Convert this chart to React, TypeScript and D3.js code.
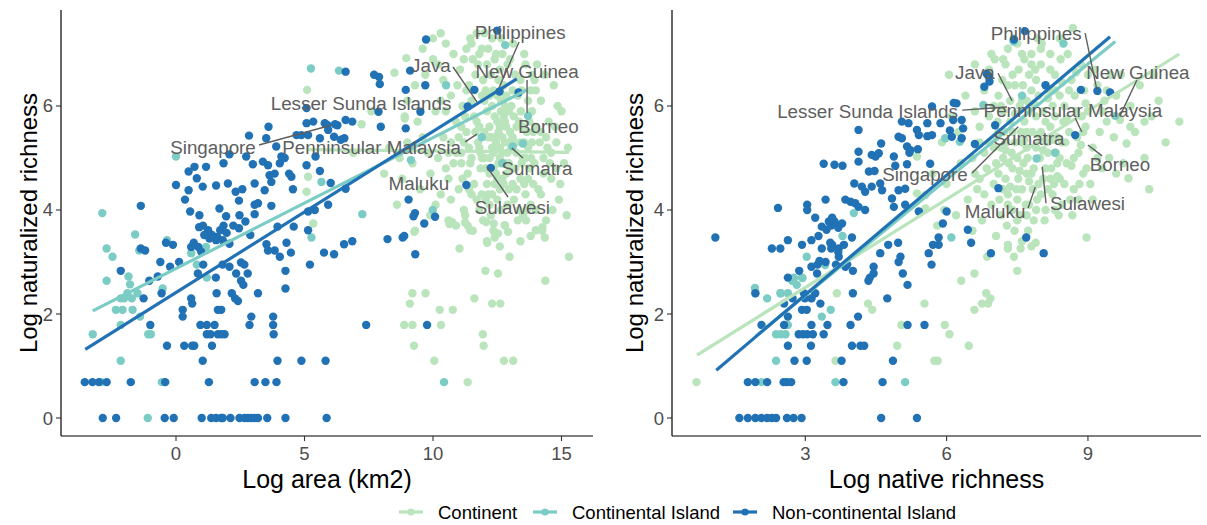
import React, { useEffect } from 'react';
import * as d3 from 'd3';

type P = [number, number];

const groups = ['Continent', 'Continental Island', 'Non-continental Island'];
const groupColors = ['#bae4bc', '#7bccc4', '#2171b5'];
const yTicks = [0, 2, 4, 6];
const areaTicks = [0, 5, 10, 15];
const nativeTicks = [3, 6, 9];
const yTitle = 'Log naturalized richness';
const areaTitle = 'Log area (km2)';
const nativeTitle = 'Log native richness';

// ---------- Left panel: log area ----------
const areaContinent: P[] = [
  [5.1,6.31],[5.14,4.64],[5.08,4.35],[5.34,3.74],[7.22,5.65],[8.5,6.64],[8.96,6.92],[7.9,6.55],[10.0,7.3],[8.9,5.76],[8.1,4.7],[7.6,5.9],[8.3,5.2],[6.9,5.1],
  [8.6,4.1],[8.8,4.6],[9.0,5.3],[9.2,4.9],[9.3,3.6],[9.0,6.1],[9.4,5.7],[9.5,4.4],[9.7,6.6],[9.8,5.1],[9.9,3.9],[8.9,5.8],[9.6,7.1],[9.3,6.4],[9.9,4.7],[8.7,5.0],
  [10.1,5.9],[10.2,6.8],[10.3,4.3],[10.4,5.4],[10.5,7.2],[10.6,3.8],[10.7,6.2],[10.8,4.9],[10.9,5.7],[10.2,5.0],[10.4,6.5],[10.6,4.6],[10.8,7.0],[10.9,3.7],[10.3,7.4],[10.7,5.3],[10.1,4.1],[10.5,5.9],[10.95,6.4],[10.0,6.9],
  [11.0,4.4],[11.1,5.1],[11.15,6.0],[11.2,6.9],[11.25,3.9],[11.3,5.5],[11.35,4.7],[11.4,6.4],[11.45,7.3],[11.5,5.0],[11.55,3.6],[11.6,5.8],[11.65,6.6],[11.7,4.2],[11.75,5.3],[11.8,7.0],[11.85,4.8],[11.9,6.2],[11.95,3.8],[11.05,6.7],
  [11.2,4.0],[11.3,7.1],[11.4,5.2],[11.5,6.1],[11.6,4.5],[11.7,7.4],[11.8,5.6],[11.9,4.3],[11.1,5.6],[11.45,4.9],[11.75,6.8],[11.25,5.8],[11.55,6.9],[11.85,5.1],[11.35,3.7],[11.65,5.5],[11.95,6.5],[11.15,4.6],[11.5,7.2],[11.8,4.0],
  [12.0,5.0],[12.05,6.3],[12.1,4.5],[12.15,7.1],[12.2,5.6],[12.25,3.9],[12.3,6.0],[12.35,4.8],[12.4,6.9],[12.45,5.3],[12.5,4.2],[12.55,6.5],[12.6,5.0],[12.65,7.3],[12.7,4.6],[12.75,5.8],[12.8,3.7],[12.85,6.2],[12.9,5.1],[12.95,4.4],
  [12.0,7.4],[12.1,5.9],[12.2,4.1],[12.3,5.2],[12.4,4.5],[12.5,5.7],[12.6,6.7],[12.7,5.4],[12.8,4.9],[12.9,6.8],[12.05,4.8],[12.15,5.4],[12.25,6.6],[12.35,3.6],[12.45,4.7],[12.55,5.5],[12.65,4.0],[12.75,6.4],[12.85,5.6],[12.95,5.9],
  [12.1,6.8],[12.3,4.3],[12.5,6.2],[12.7,5.1],[12.9,4.1],[12.2,5.0],[12.4,5.8],[12.6,4.4],[12.8,5.3],[12.0,5.5],[12.35,6.3],[12.55,4.9],[12.75,4.5],[12.95,5.3],[12.15,4.3],[12.45,7.0],[12.65,5.9],[12.85,4.7],[12.25,5.4],[12.6,5.2],
  [13.0,4.8],[13.05,6.0],[13.1,5.4],[13.15,4.2],[13.2,6.6],[13.25,5.1],[13.3,3.8],[13.35,5.7],[13.4,4.6],[13.45,6.3],[13.5,5.0],[13.55,7.0],[13.6,4.3],[13.65,5.5],[13.7,6.1],[13.75,4.8],[13.8,3.5],[13.85,5.9],[13.9,4.5],[13.95,6.5],
  [13.0,6.9],[13.1,4.5],[13.2,5.3],[13.3,6.2],[13.4,3.4],[13.5,5.6],[13.6,6.8],[13.7,5.2],[13.8,4.1],[13.9,5.5],[13.05,5.2],[13.25,4.4],[13.45,4.9],[13.65,4.0],[13.85,6.6],[13.15,5.8],[13.35,4.0],[13.55,5.3],[13.75,5.7],[13.95,4.9],
  [13.12,7.2],[13.42,5.9],[13.62,3.8],[13.82,5.0],
  [14.0,5.6],[14.1,4.4],[14.2,6.1],[14.3,5.0],[14.4,3.8],[14.5,5.7],[14.6,4.6],[14.7,6.4],[14.8,5.3],[14.9,4.2],[15.0,5.9],[15.1,4.9],[15.2,3.9],[14.05,6.8],[14.25,3.6],[14.45,5.2],[14.65,4.0],[14.85,6.0],[14.15,5.3],[14.35,6.6],
  [14.55,4.9],[14.75,5.6],[14.95,4.5],[14.0,4.0],[14.3,4.7],[14.6,5.1],[15.25,5.2],
  [11.1,4.9],[11.3,6.3],[11.5,4.3],[11.7,5.7],[11.9,5.0],[12.05,4.2],[12.2,6.2],[12.35,5.1],[12.5,4.6],[12.65,6.1],[12.8,5.7],[12.95,4.9],[13.1,6.3],[13.25,5.6],[13.4,5.3],[13.55,4.5],[13.7,4.6],[13.85,5.3],[14.0,6.3],[14.2,5.5],
  [11.2,5.3],[11.4,4.4],[11.6,6.3],[11.8,5.2],[12.0,6.1],[12.2,4.7],[12.4,5.4],[12.6,5.6],[12.8,6.0],[13.0,5.5],[13.2,4.8],[13.4,6.5],[13.6,5.0],[13.8,6.3],[14.4,5.4],[14.8,4.8],[10.5,4.8],[10.7,4.2],[10.9,5.1],[10.3,6.1],
  [12.3,7.3],[12.7,7.0],[11.9,7.1],[12.1,3.4],[12.6,3.3],[13.5,3.9],[14.2,4.3],[11.0,5.4],[10.6,5.1],[9.6,5.4],
  [9.27,3.58],[11.03,3.26],[10.64,3.73],[10.74,3.77],[11.25,3.76],[11.45,3.61],[12.07,3.77],[12.36,3.74],[12.79,3.71],[12.92,3.58],[12.11,3.37],[12.4,3.47],[12.53,3.55],[12.98,3.1],[14.0,3.61],[14.26,3.67],[14.35,3.47],[15.29,3.1],
  [12.04,2.83],[12.53,2.78],[14.37,2.64],[9.2,2.4],[9.71,2.4],[9.1,2.2],[11.61,2.3],[12.3,2.2],[12.62,2.2],[10.26,2.08],[10.77,2.08],[8.88,1.79],[9.2,1.79],[10.31,1.79],[11.94,1.61],[9.26,1.39],[11.97,1.39],[10.05,1.1],[12.76,1.1],[13.12,1.1],[11.35,0.69]
];

const areaContIsland: P[] = [
  [-3.24,1.61],[-2.9,0.69],[-2.15,1.1],[-2.15,1.79],[-1.1,0],[-1.08,1.61],[-0.98,1.61],[-0.55,0.69],[-1.4,1.95],[-2.34,2.08],[-2.08,2.08],[-1.69,2.08],[-1.59,3.53],[-2.7,3.26],[-2.47,3.1],[-1.43,3.22],[-2.7,2.64],[-1.85,2.72],[-1.79,2.57],[-0.35,3.42],
  [-0.52,2.49],[-2.15,2.3],[-2.02,2.3],[-1.72,2.3],[-1.89,2.4],[-1.5,2.4],[0.59,3.17],[1.17,3.29],[0.81,2.95],[1.2,2.7],[5.27,3.47],[5.25,6.72],[0.0,5.03],[5.66,4.54],[-2.87,3.94],[6.34,6.68],[10.51,6.4],[12.81,7.17],[13.7,5.81],[13.5,5.28],
  [9.14,4.96],[9.99,4.0],[7.25,3.92],[13.1,5.22],[10.43,0.69],[11.9,5.4],[12.7,4.9]
];

const areaNonCont: P[] = [
  [-2.85,0],[-2.33,0],[-0.44,0],[-0.09,0],[1.0,0],[1.37,0],[1.56,0],[1.76,0],[1.82,0],[2.12,0],[2.47,0],[2.67,0],[2.8,0],[2.93,0],[3.06,0],[3.19,0],[3.55,0],[4.26,0],[5.86,0],
  [-3.55,0.69],[-3.25,0.69],[-3.0,0.69],[-2.7,0.69],[-1.76,0.69],[-0.42,0.69],[1.28,0.69],[3.06,0.69],[3.48,0.69],[3.91,0.69],
  [1.04,1.1],[3.95,1.1],[4.88,1.1],[5.82,1.1],
  [-0.35,1.39],[0.32,1.39],[0.63,1.39],[0.71,1.39],[1.4,1.39],
  [1.2,1.61],[1.34,1.61],[1.63,1.61],[1.76,1.61],[1.89,1.61],[3.8,1.61],
  [-1.0,1.79],[0.95,1.79],[1.2,1.79],[1.5,1.79],[2.86,1.79],[3.78,1.79],[7.4,1.79],[9.77,1.79],
  [0.26,1.95],[2.93,1.95],[3.78,1.95],[0.26,2.08],[1.63,2.08],[1.76,2.08],
  [-2.15,2.83],[-1.37,3.26],[-1.2,3.22],[-1.04,2.64],[-0.71,2.72],[-0.61,3.0],[-0.39,3.37],[-0.12,3.33],[-0.56,2.4],[-1.26,2.3],[-0.23,2.91],[0.12,3.0],[0.69,3.37],[0.59,3.29],[0.87,3.29],[0.98,3.2],[1.06,2.95],[0.85,2.78],[1.55,2.7],[1.58,2.4],
  [0.59,2.3],[0.63,2.2],[1.81,2.95],[2.08,2.91],[2.34,2.78],[2.53,2.99],[2.66,2.95],[2.79,2.78],[2.53,2.64],[2.62,2.56],[2.17,2.4],[2.3,2.3],[2.41,2.25],[3.19,2.4],[3.52,3.34],[3.84,3.22],[3.58,3.22],[4.04,3.1],[4.3,3.37],[4.47,3.18],
  [4.26,2.83],[4.26,2.49],[3.95,3.68],[4.58,3.68],[5.14,3.61],[5.21,2.95],[5.76,3.18],
  [0.9,3.67],[1.05,3.7],[1.25,3.61],[1.4,3.52],[1.6,3.48],[1.72,3.61],[1.85,3.7],[1.97,3.56],[2.23,3.7],[2.45,3.65],[2.7,3.78],[1.1,3.52],[1.3,3.45],[1.56,3.42],[1.82,3.42],[2.08,3.35],[2.89,3.52],
  [5.08,5.96],[5.08,5.67],[5.34,5.7],[3.6,5.6],[2.84,5.43],[3.51,5.38],[4.69,5.44],[4.88,5.44],[5.14,5.44],[5.79,5.67],[5.6,5.38],[5.92,5.54],[3.9,5.22],[2.08,5.07],[2.73,5.03],[2.99,4.88],[3.38,4.93],[3.58,4.86],[4.1,5.03],[4.23,5.0],
  [4.04,4.9],[5.08,4.86],[5.43,5.03],[5.6,4.75],[1.85,4.9],[0.72,4.83],[1.17,4.83],[0.49,4.74],[0.81,4.61],[0.0,4.48],[0.49,4.38],[1.04,4.45],[1.56,4.47],[2.02,4.51],[2.32,4.35],[2.58,4.4],[3.06,4.51],[3.45,4.38],[3.71,4.54],[3.64,4.67],
  [3.84,4.7],[4.4,4.7],[4.49,4.64],[4.55,4.4],[0.35,4.2],[-1.37,4.08],[0.55,3.97],[1.69,4.03],[2.45,4.18],[3.06,4.1],[3.19,4.13],[3.71,4.08],[0.91,3.9],[1.95,3.88],[2.47,3.9],[3.06,3.92],[5.4,4.0],[5.14,3.97],[5.92,4.1],
  [9.73,7.28],[12.5,7.45],[6.6,6.66],[7.71,6.6],[7.9,6.56],[7.93,6.42],[9.11,6.68],[9.7,6.4],[8.94,6.31],[9.51,5.89],[7.88,5.89],[7.97,5.6],[8.94,5.57],[6.28,5.63],[6.6,5.73],[6.86,5.7],[6.15,5.41],[6.41,5.35],[6.02,4.52],[6.6,4.41],
  [9.05,4.2],[10.08,3.87],[11.61,6.31],[11.35,5.99],[12.59,6.28],[13.33,6.26],[11.3,4.48],[12.25,4.81],[9.3,3.94],[9.24,3.88],[6.55,5.38],[5.9,5.63],[6.19,5.65],
  [6.15,3.15],[6.54,3.34],[6.86,3.4],[8.23,3.44],[8.82,3.47],[8.88,3.5],[9.31,3.15],[9.66,3.74]
];

// ---------- Right panel: log native richness ----------
const nativeContinent: P[] = [
  [5.37,5.03],[5.37,4.32],[5.55,4.29],[5.55,4.03],[5.7,4.7],[5.9,5.3],[6.0,4.5],[6.1,5.8],[6.2,3.9],[6.3,4.9],[6.4,6.2],[6.45,4.2],[5.8,3.7],[6.05,6.6],[6.25,5.5],[5.95,4.0],
  [6.55,5.0],[6.6,6.8],[6.65,4.4],[6.7,5.6],[6.75,3.8],[6.8,6.3],[6.85,4.8],[6.9,5.3],[6.95,4.1],[6.6,5.9],[6.7,4.6],[6.9,6.7],[6.55,3.6],[6.8,5.1],[6.95,7.0],
  [7.0,4.5],[7.05,5.4],[7.1,6.2],[7.15,3.9],[7.2,5.0],[7.25,6.8],[7.3,4.3],[7.35,5.7],[7.4,4.8],[7.45,6.4],[7.0,6.0],[7.1,4.7],[7.2,5.9],[7.3,7.1],[7.4,4.0],[7.05,3.5],[7.15,5.2],[7.25,4.6],[7.35,6.1],[7.45,5.3],
  [7.02,6.9],[7.12,4.2],[7.22,5.5],[7.32,4.9],[7.42,7.3],[7.08,5.7],[7.28,3.7],[7.38,5.1],[7.48,4.4],[7.18,6.5],[7.44,3.6],[7.27,5.3],
  [7.5,5.0],[7.55,6.0],[7.6,4.4],[7.65,6.9],[7.7,5.5],[7.75,4.1],[7.8,6.3],[7.85,4.8],[7.9,5.8],[7.95,4.5],[7.5,7.2],[7.6,5.3],[7.7,4.7],[7.8,7.0],[7.9,5.2],[7.55,3.9],[7.65,5.7],[7.75,6.6],[7.85,3.8],[7.95,6.2],
  [7.52,4.6],[7.62,6.4],[7.72,5.0],[7.82,5.5],[7.92,4.2],[7.58,5.5],[7.68,4.1],[7.78,5.9],[7.88,6.7],[7.98,5.0],[7.53,6.7],[7.63,4.9],[7.73,3.6],[7.83,4.4],[7.93,7.3],[7.6,3.4],[7.8,3.3],[7.7,6.1],
  [8.0,5.5],[8.05,4.6],[8.1,6.4],[8.15,5.1],[8.2,7.0],[8.25,4.3],[8.3,5.8],[8.35,4.9],[8.4,6.2],[8.45,5.3],[8.0,6.8],[8.1,4.0],[8.2,5.6],[8.3,6.6],[8.4,4.6],[8.05,5.9],[8.15,4.4],[8.25,6.0],[8.35,5.4],[8.45,4.1],
  [8.02,7.2],[8.12,5.3],[8.22,4.8],[8.32,5.1],[8.42,6.9],[8.08,3.8],[8.28,4.5],[8.48,5.7],[8.18,6.3],[8.38,3.9],[8.68,7.5],
  [8.5,6.0],[8.55,4.9],[8.6,5.5],[8.65,6.5],[8.7,4.4],[8.75,5.9],[8.8,5.1],[8.85,6.8],[8.9,4.7],[8.95,5.6],[8.52,5.3],[8.62,4.2],[8.72,6.2],[8.82,4.5],[8.92,6.3],[8.57,7.0],[8.77,5.4],[8.97,4.8],[8.67,3.9],[8.87,5.8],
  [9.0,5.9],[9.1,5.2],[9.2,6.4],[9.3,4.8],[9.4,5.7],[9.05,4.5],[9.15,6.7],[9.25,5.5],[9.35,6.1],[9.45,5.0],[9.1,4.2],[9.3,5.9],[9.48,6.6],
  [9.55,5.4],[9.6,6.2],[9.68,5.73],[9.75,4.9],[9.82,5.28],[9.86,4.61],[9.9,6.0],[10.0,5.5],[10.1,6.4],[10.2,5.0],[10.35,5.8],[10.5,6.1],[10.65,5.3],[10.94,5.7],[10.3,4.4],
  [7.05,4.9],[7.15,6.0],[7.25,5.15],[7.35,4.45],[7.45,5.85],[7.55,4.75],[7.65,5.35],[7.75,4.55],[7.85,6.05],[7.95,5.45],[8.05,5.15],[8.15,6.15],[8.25,5.35],[8.35,4.65],[8.45,6.45],[8.55,5.75],[8.65,4.85],[8.75,6.65],[8.85,5.25],[8.95,6.05],
  [7.1,5.5],[7.2,4.4],[7.3,6.4],[7.4,5.5],[7.5,4.2],[7.6,6.1],[7.7,5.2],[7.8,4.7],[7.9,6.5],[8.0,4.3],[8.1,5.7],[8.2,4.6],[8.3,6.3],[8.4,5.0],[8.5,4.5],[8.6,6.3],[8.7,5.0],[8.8,4.2],[8.9,5.5],[9.0,6.6],
  [6.9,5.8],[7.0,5.2],[7.2,6.9],[7.4,6.6],[7.6,7.0],[7.8,6.8],[8.0,7.1],[8.2,6.7],[8.4,7.3],[7.3,4.1],[7.5,3.8],[7.7,3.9],[7.9,4.0],[8.1,4.8],[8.3,4.0],[6.7,5.3],[6.8,4.3],[6.6,4.7],[9.2,5.0],[9.4,6.3],
  [9.6,4.7],[9.9,5.6],[10.2,5.7],[10.4,6.6],[9.7,6.6],
  [6.47,1.39],[6.06,1.61],[5.04,1.79],[5.96,1.79],[4.42,2.08],[6.59,2.08],[4.33,2.2],[5.53,2.2],[6.75,2.2],[6.88,2.2],[6.93,2.3],[3.67,2.4],[6.84,2.4],[6.31,2.64],[6.59,2.78],[7.5,2.83],[6.86,3.1],[7.43,3.1],[7.3,3.26],[7.57,3.26],
  [7.3,3.33],[7.89,3.37],[8.97,3.47],[0.69,0.69],[3.64,1.1],[5.74,1.1],[5.81,1.1],[4.95,1.39]
];

const nativeContIsland: P[] = [
  [2.07,0.69],[3.64,0.69],[5.12,0.69],[2.38,1.1],[2.38,1.61],[2.48,1.61],[2.58,1.61],[2.63,1.79],[3.35,1.95],[3.54,2.08],[2.19,2.3],[1.94,2.4],[2.47,2.4],[2.63,2.4],[2.82,2.56],[2.72,2.64],[2.75,2.7],[2.93,2.7],[3.03,3.1],[6.1,3.47],
  [3.79,3.5],[1.93,2.5],[2.48,2.4],[2.76,2.69],[2.94,2.69],[3.13,2.3],[3.42,2.94],[4.03,3.94],[6.28,5.31],[5.97,5.38],[7.91,4.99],[9.58,5.81],[8.48,7.2],[7.42,7.24],[6.78,6.02],[8.3,5.1],[7.6,6.2]
];

const nativeNonCont: P[] = [
  [1.6,0],[1.78,0],[1.94,0],[2.07,0],[2.19,0],[2.29,0],[2.38,0],[2.61,0],[2.75,0],[2.92,0],[4.61,0],[5.37,0],
  [1.78,0.69],[1.94,0.69],[2.19,0.69],[2.54,0.69],[2.61,0.69],[2.7,0.69],[3.81,0.69],[4.64,0.69],
  [3.77,1.1],[2.77,1.1],[3.03,1.1],[4.86,1.1],
  [2.63,1.39],[3.12,1.39],[3.99,1.39],[4.17,1.39],[4.25,1.39],
  [2.86,1.61],[2.95,1.61],[3.04,1.61],[3.16,1.61],[3.39,1.61],
  [2.07,1.79],[2.55,1.79],[3.13,1.79],[3.47,1.79],[3.96,1.79],[5.17,1.79],[5.53,1.79],
  [2.63,1.95],[4.12,1.95],[2.93,2.08],[3.03,2.08],[2.55,2.2],[3.32,2.2],[2.73,2.3],[2.99,2.3],[3.13,2.3],[4.74,2.3],[1.94,2.4],[2.97,2.4],[3.21,2.4],[4.01,2.4],
  [5.17,2.56],[4.34,2.64],[2.63,2.7],[4.37,2.7],[3.25,2.78],[4.45,2.78],[5.07,2.78],[2.87,2.83],[4.01,2.83],[3.13,2.91],[3.85,2.91],[4.45,2.91],[3.26,2.95],[5.68,2.95],[3.65,2.95],[3.89,2.95],
  [3.43,3.0],[4.98,3.0],[3.3,3.02],[5.02,3.1],[3.71,3.1],[6.94,3.17],[5.62,3.17],[8.06,3.17],[4.59,3.17],[3.7,3.19],
  [2.29,3.26],[2.47,3.26],[3.35,3.26],[3.55,3.26],[3.71,3.26],[2.93,3.33],[3.57,3.33],[3.82,3.33],[4.76,3.33],[5.71,3.33],[5.83,3.33],[3.53,3.37],[4.97,3.37],[6.52,3.37],
  [2.63,3.42],[3.13,3.42],[1.09,3.47],[3.99,3.47],[7.69,3.47],[5.83,3.47],[3.28,3.5],
  [3.45,3.62],[3.55,3.7],[3.62,3.78],[3.7,3.66],[3.78,3.74],[3.5,3.78],[3.35,3.68],[5.92,3.74],[6.45,3.62],
  [2.42,4.04],[3.04,4.1],[3.04,4.0],[3.21,3.85],[3.57,3.85],[3.43,4.2],[3.85,4.2],[3.96,4.16],[4.06,4.13],[4.27,4.0],[4.13,4.06],[3.39,4.89],[3.62,4.87],[3.79,4.85],[4.13,5.12],[4.13,4.93],[4.35,4.74],[4.47,4.75],
  [4.04,4.51],[4.2,4.45],[4.27,4.35],[4.41,4.45],[4.59,4.51],[4.63,4.38],[4.41,5.06],[4.49,5.03],[4.56,5.09],[4.88,5.03],[4.61,5.28],[4.13,5.54],[4.84,4.22],[4.98,4.38],[5.12,4.41],[4.91,4.85],[5.16,4.88],[5.21,5.1],
  [5.39,5.17],[4.98,5.41],[5.05,5.38],[5.16,5.22],[5.23,5.15],[5.05,5.7],[5.19,5.67],[5.37,5.54],[5.41,5.44],[5.59,5.42],[5.69,5.44],[5.59,5.67],[5.69,5.99],[5.87,5.67],[5.65,4.89],[4.88,4.06],[5.12,4.1],[5.41,3.97],
  [7.43,7.28],[7.66,7.44],[6.85,6.62],[6.91,6.47],[6.21,6.05],[6.14,5.73],[6.32,5.73],[6.35,5.57],[6.07,5.53],[6.11,5.41],[6.32,5.38],[6.6,5.27],[7.03,5.63],[8.73,5.44],[8.85,6.31],[9.2,6.29],[9.47,6.26],[7.1,4.42],[6.0,3.97],
  [6.8,6.37],[8.1,6.4],[6.89,6.57],[6.15,6.06]
];

// fitted lines (endpoints) per group
const areaFits: P[][] = [
  [[5.08, 5.16], [15.29, 5.11]],
  [[-3.24, 2.06], [13.65, 6.31]],
  [[-3.53, 1.32], [13.26, 6.52]],
];
const nativeFits: P[][] = [
  [[0.7, 1.21], [10.94, 7.0]],
  [[1.94, 1.57], [9.58, 7.24]],
  [[1.11, 0.92], [9.47, 7.33]],
];

// labels: [name, textX, textY, segX1, segY1, segX2, segY2]
type Lab = [string, number, number, number | null, number | null, number | null, number | null];
const areaLabels: Lab[] = [
  ['Philippines', 13.39, 7.42, 13.35, 7.23, 12.57, 6.35],
  ['Java', 9.92, 6.77, 10.78, 6.75, 11.71, 6.08],
  ['New Guinea', 13.66, 6.67, 13.66, 6.5, 13.66, 5.87],
  ['Lesser Sunda Islands', 7.2, 6.04, null, null, null, null],
  ['Singapore', 1.44, 5.21, 3.23, 5.25, 6.03, 5.63],
  ['Penninsular Malaysia', 7.61, 5.21, 11.25, 5.31, 11.71, 5.46],
  ['Borneo', 14.49, 5.6, null, null, null, null],
  ['Sumatra', 14.05, 4.79, 13.5, 5.0, 13.07, 5.19],
  ['Maluku', 9.45, 4.5, null, null, null, null],
  ['Sulawesi', 13.09, 4.04, 12.92, 4.25, 12.1, 4.83],
];
const nativeLabels: Lab[] = [
  ['Philippines', 7.9, 7.4, 8.94, 7.4, 9.19, 6.31],
  ['Java', 6.6, 6.65, 7.09, 6.63, 7.39, 6.1],
  ['New Guinea', 10.06, 6.65, 10.04, 6.5, 9.68, 5.81],
  ['Lesser Sunda Islands', 4.32, 5.9, 6.33, 5.92, 7.28, 5.98],
  ['Penninsular Malaysia', 8.68, 5.92, 8.73, 5.77, 8.87, 5.5],
  ['Sumatra', 7.75, 5.38, null, null, null, null],
  ['Singapore', 5.54, 4.69, 6.54, 4.71, 7.52, 5.6],
  ['Borneo', 9.68, 4.87, 9.3, 5.04, 9.0, 5.25],
  ['Maluku', 7.03, 3.98, 7.73, 4.04, 7.88, 4.44],
  ['Sulawesi', 8.99, 4.13, 8.11, 4.13, 8.03, 4.83],
];

const FONT = '"Liberation Sans", Arial, Helvetica, sans-serif';
const W = 1207;
const H = 525;
const TOP = 10;
const BOTTOM = 436;

interface PanelProps {
  x0: number; x1: number; xDomain: [number, number];
  xTicks: number[]; xTitle: string; titleX: number;
  series: P[][]; fits: P[][]; labels: Lab[];
}

function Panel({ x0, x1, xDomain, xTicks, xTitle, titleX, series, fits, labels }: PanelProps) {
  const xs = d3.scaleLinear().domain(xDomain).range([x0, x1]);
  const ys = d3.scaleLinear().domain([-0.346, 7.846]).range([BOTTOM, TOP]);
  const line = d3.line<P>().x(d => xs(d[0])).y(d => ys(d[1]));
  return (
    <g>
      {series.map((pts, gi) => (
        <g key={gi}>
          {pts.map((p, i) => (
            <circle key={i} cx={xs(p[0])} cy={ys(p[1])} r={4.2} fill={groupColors[gi]} />
          ))}
        </g>
      ))}
      {fits.map((f, gi) => (
        <path key={gi} d={line(f) || ''} stroke={groupColors[gi]} strokeWidth={3.2} fill="none" />
      ))}
      {labels.map((l, i) => (
        <g key={i}>
          {l[3] !== null && (
            <line x1={xs(l[3] as number)} y1={ys(l[4] as number)} x2={xs(l[5] as number)} y2={ys(l[6] as number)}
              stroke="#5e5e5e" strokeWidth={1.4} />
          )}
          <text x={xs(l[1])} y={ys(l[2])} textAnchor="middle" dominantBaseline="central"
            fontSize={18.8} fill="#5e5e5e" fontFamily={FONT}>{l[0]}</text>
        </g>
      ))}
      <line x1={x0} y1={TOP} x2={x0} y2={BOTTOM} stroke="#000" strokeWidth={1.2} />
      <line x1={x0} y1={BOTTOM} x2={x1} y2={BOTTOM} stroke="#000" strokeWidth={1.2} />
      {yTicks.map(t => (
        <g key={t}>
          <line x1={x0 - 5} x2={x0} y1={ys(t)} y2={ys(t)} stroke="#333" strokeWidth={1.1} />
          <text x={x0 - 8} y={ys(t)} textAnchor="end" dominantBaseline="central" fontSize={18.5}
            fill="#4d4d4d" fontFamily={FONT}>{t}</text>
        </g>
      ))}
      {xTicks.map(t => (
        <g key={t}>
          <line x1={xs(t)} x2={xs(t)} y1={BOTTOM} y2={BOTTOM + 5} stroke="#333" strokeWidth={1.1} />
          <text x={xs(t)} y={BOTTOM + 17} textAnchor="middle" dominantBaseline="central" fontSize={18.5}
            fill="#4d4d4d" fontFamily={FONT}>{t}</text>
        </g>
      ))}
      <text x={(x0 + x1) / 2} y={479} textAnchor="middle" dominantBaseline="central" fontSize={25}
        fill="#000" fontFamily={FONT}>{xTitle}</text>
      <text transform={`translate(${titleX},${(TOP + BOTTOM) / 2}) rotate(-90)`} textAnchor="middle"
        dominantBaseline="central" fontSize={24} fill="#000" fontFamily={FONT}>{yTitle}</text>
    </g>
  );
}

export default function App() {
  useEffect(() => {
    document.body.style.margin = '0';
  }, []);
  const legendKeyX = [411, 545, 745];
  const legendTextX = [438, 572, 772];
  const legendY = 512;
  return (
    <svg width={W} height={H} viewBox={`0 0 ${W} ${H}`}
      style={{ display: 'block', position: 'absolute', left: 0, top: 0, background: '#fff' }}>
      <rect width={W} height={H} fill="#fff" />
      <Panel x0={61} x1={593} xDomain={[-4.475, 16.226]} xTicks={areaTicks} xTitle={areaTitle} titleX={28}
        series={[areaContinent, areaContIsland, areaNonCont]} fits={areaFits} labels={areaLabels} />
      <Panel x0={672} x1={1201} xDomain={[0.17, 11.4]} xTicks={nativeTicks} xTitle={nativeTitle} titleX={634}
        series={[nativeContinent, nativeContIsland, nativeNonCont]} fits={nativeFits} labels={nativeLabels} />
      {groups.map((g, i) => (
        <g key={g}>
          <line x1={legendKeyX[i] - 12} x2={legendKeyX[i] + 12} y1={legendY} y2={legendY}
            stroke={groupColors[i]} strokeWidth={3.2} />
          <circle cx={legendKeyX[i]} cy={legendY} r={3.6} fill={groupColors[i]} />
          <text x={legendTextX[i]} y={legendY} dominantBaseline="central" fontSize={18.5}
            fill="#000" fontFamily={FONT}>{g}</text>
        </g>
      ))}
    </svg>
  );
}
